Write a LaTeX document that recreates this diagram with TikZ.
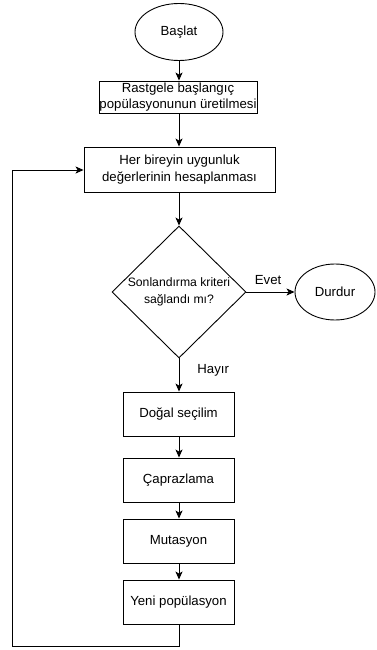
\documentclass[tikz,border=0pt]{standalone}
\usepackage{fontspec}
\setmainfont{Liberation Sans}
\usetikzlibrary{shapes.geometric,arrows.meta}
\begin{document}
\begin{tikzpicture}[x=1pt,y=-1pt,
  every node/.style={font=\fontsize{13.2}{16.5}\selectfont, inner sep=0pt, align=center},
  term/.style={draw, ellipse, line width=0.9pt},
  proc/.style={draw, rectangle, line width=0.9pt},
  dec/.style={draw, diamond, line width=0.9pt},
  flow/.style={line width=0.9pt, -{Stealth[length=8pt,width=7pt,inset=2pt]}},
  lbl/.style={font=\fontsize{13.2}{16}\selectfont}]
\useasboundingbox (0,0) rectangle (376,650);
\node[term, minimum width=88pt, minimum height=57pt] (start) at (179,32) {Başlat};
\node[proc, minimum width=158pt, minimum height=32pt] (init) at (178,97) {Rastgele başlangıç\\popülasyonunun üretilmesi};
\node[proc, minimum width=191pt, minimum height=45pt] (eval) at (179.5,169.5) {Her bireyin uygunluk\\değerlerinin hesaplanması};
\node[dec, minimum width=134pt, minimum height=132pt] (cond) at (179,292) {};
\node[font=\fontsize{12.2}{17.5}\selectfont] (condtxt) at (cond.center) {Sonlandırma kriteri\\sağlandı mı?};
\node[term, minimum width=80pt, minimum height=56pt] (stop) at (335,292) {Durdur};
\node[proc, minimum width=111pt, minimum height=44pt] (sel) at (178.5,414) {Doğal seçilim};
\node[proc, minimum width=111pt, minimum height=44pt] (cross) at (178.5,480) {Çaprazlama};
\node[proc, minimum width=111pt, minimum height=44pt] (mut) at (178.5,541) {Mutasyon};
\node[proc, minimum width=111pt, minimum height=44pt] (newpop) at (178.5,602) {Yeni popülasyon};
\coordinate (c1) at (179,646);
\coordinate (c2) at (12,646);
\coordinate (c3) at (12,170);
\draw[flow] (start) -- (start |- init.north);
\draw[flow] (init.south -| start) -- (start |- eval.north);
\draw[flow] (eval.south -| cond) -- (cond.north);
\draw[flow] (cond.east) -- node[lbl, above=7pt, pos=0.45] {Evet} (stop.west);
\draw[flow] (cond.south) -- node[lbl, right=18pt, pos=0.35] {Hayır} (cond.south |- sel.north);
\draw[flow] (sel.south -| cond) -- (cond |- cross.north);
\draw[flow] (cross.south -| cond) -- (cond |- mut.north);
\draw[flow] (mut.south -| cond) -- (cond |- newpop.north);
\draw[flow] (newpop.south -| c1) -- (c1) -- (c2) -- (c3) -- (c3 -| eval.west);
\end{tikzpicture}
\end{document}
